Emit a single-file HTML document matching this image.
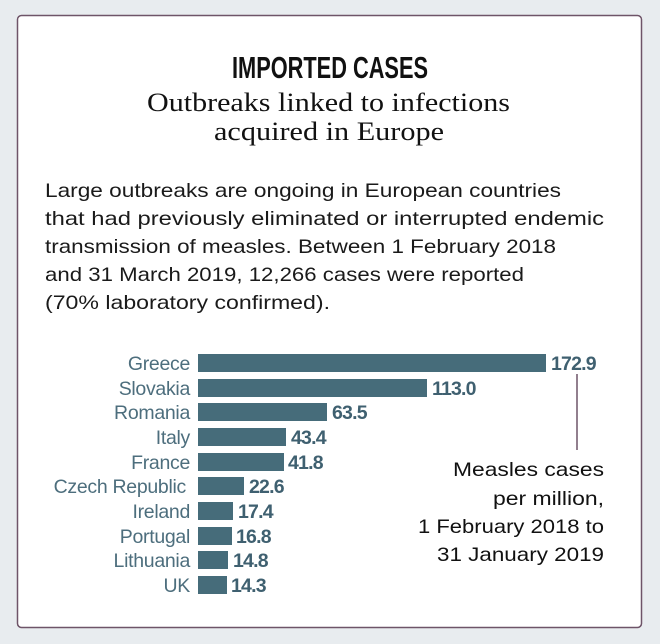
<!DOCTYPE html>
<html><head><meta charset="utf-8"><style>
html,body{margin:0;padding:0;background:#e8ecef;}
svg{display:block}
</style></head><body>
<svg width="660" height="644" viewBox="0 0 660 644" xmlns="http://www.w3.org/2000/svg">
<rect x="0" y="0" width="660" height="644" fill="#e8ecef"/>
<rect x="17.5" y="15.5" width="624" height="612" rx="4" fill="#ffffff" stroke="#6e5468" stroke-width="1.5"/>
<g font-family="Liberation Sans, sans-serif" text-anchor="middle">
<text x="330" y="78" font-size="31" font-weight="bold" fill="#111" textLength="196" lengthAdjust="spacingAndGlyphs">IMPORTED CASES</text>
</g>
<g font-family="Liberation Serif, serif" font-size="26" fill="#111">
<text x="147" y="111" textLength="363" lengthAdjust="spacingAndGlyphs">Outbreaks linked to infections</text>
<text x="214" y="140" textLength="230" lengthAdjust="spacingAndGlyphs">acquired in Europe</text>
</g>
<g font-family="Liberation Sans, sans-serif" font-size="19.5" fill="#1a1a1a">
<text x="45" y="197" textLength="516" lengthAdjust="spacingAndGlyphs">Large outbreaks are ongoing in European countries</text>
<text x="45" y="225" textLength="559" lengthAdjust="spacingAndGlyphs">that had previously eliminated or interrupted endemic</text>
<text x="45" y="253" textLength="511" lengthAdjust="spacingAndGlyphs">transmission of measles. Between 1 February 2018</text>
<text x="45" y="281" textLength="479" lengthAdjust="spacingAndGlyphs">and 31 March 2019, 12,266 cases were reported</text>
<text x="45" y="309" textLength="285" lengthAdjust="spacingAndGlyphs">(70% laboratory confirmed).</text>
</g>
<g fill="#466c7a">
<rect x="198" y="354" width="348" height="18"/>
<rect x="198" y="379" width="229" height="18"/>
<rect x="198" y="403" width="129" height="18"/>
<rect x="198" y="428" width="88" height="18"/>
<rect x="198" y="453" width="86" height="18"/>
<rect x="198" y="477" width="46" height="18"/>
<rect x="198" y="502" width="35" height="18"/>
<rect x="198" y="527" width="34" height="18"/>
<rect x="198" y="551" width="30" height="18"/>
<rect x="198" y="576" width="29" height="18"/>
</g>
<g font-family="Liberation Sans, sans-serif" font-size="19.5" fill="#4d6e7d" text-anchor="end" letter-spacing="-0.3">
<text x="190" y="370">Greece</text>
<text x="190" y="395">Slovakia</text>
<text x="190" y="419">Romania</text>
<text x="190" y="444">Italy</text>
<text x="190" y="469">France</text>
<text x="186" y="493">Czech Republic</text>
<text x="190" y="518">Ireland</text>
<text x="190" y="543">Portugal</text>
<text x="190" y="567">Lithuania</text>
<text x="190" y="592">UK</text>
</g>
<g font-family="Liberation Sans, sans-serif" font-size="19.5" font-weight="bold" fill="#3f6070" letter-spacing="-0.8">
<text x="551" y="370">172.9</text>
<text x="432" y="395">113.0</text>
<text x="332" y="419">63.5</text>
<text x="291" y="444">43.4</text>
<text x="288" y="469">41.8</text>
<text x="249" y="493">22.6</text>
<text x="238" y="518">17.4</text>
<text x="236" y="543">16.8</text>
<text x="233" y="567">14.8</text>
<text x="231" y="592">14.3</text>
</g>
<line x1="577" y1="374" x2="577" y2="450" stroke="#6e5468" stroke-width="1.5"/>
<g font-family="Liberation Sans, sans-serif" font-size="19.5" fill="#111">
<text x="453" y="476" textLength="151" lengthAdjust="spacingAndGlyphs">Measles cases</text>
<text x="493" y="505" textLength="111" lengthAdjust="spacingAndGlyphs">per million,</text>
<text x="418" y="533" textLength="186" lengthAdjust="spacingAndGlyphs">1 February 2018 to</text>
<text x="437" y="561" textLength="167" lengthAdjust="spacingAndGlyphs">31 January 2019</text>
</g>
</svg>
</body></html>
